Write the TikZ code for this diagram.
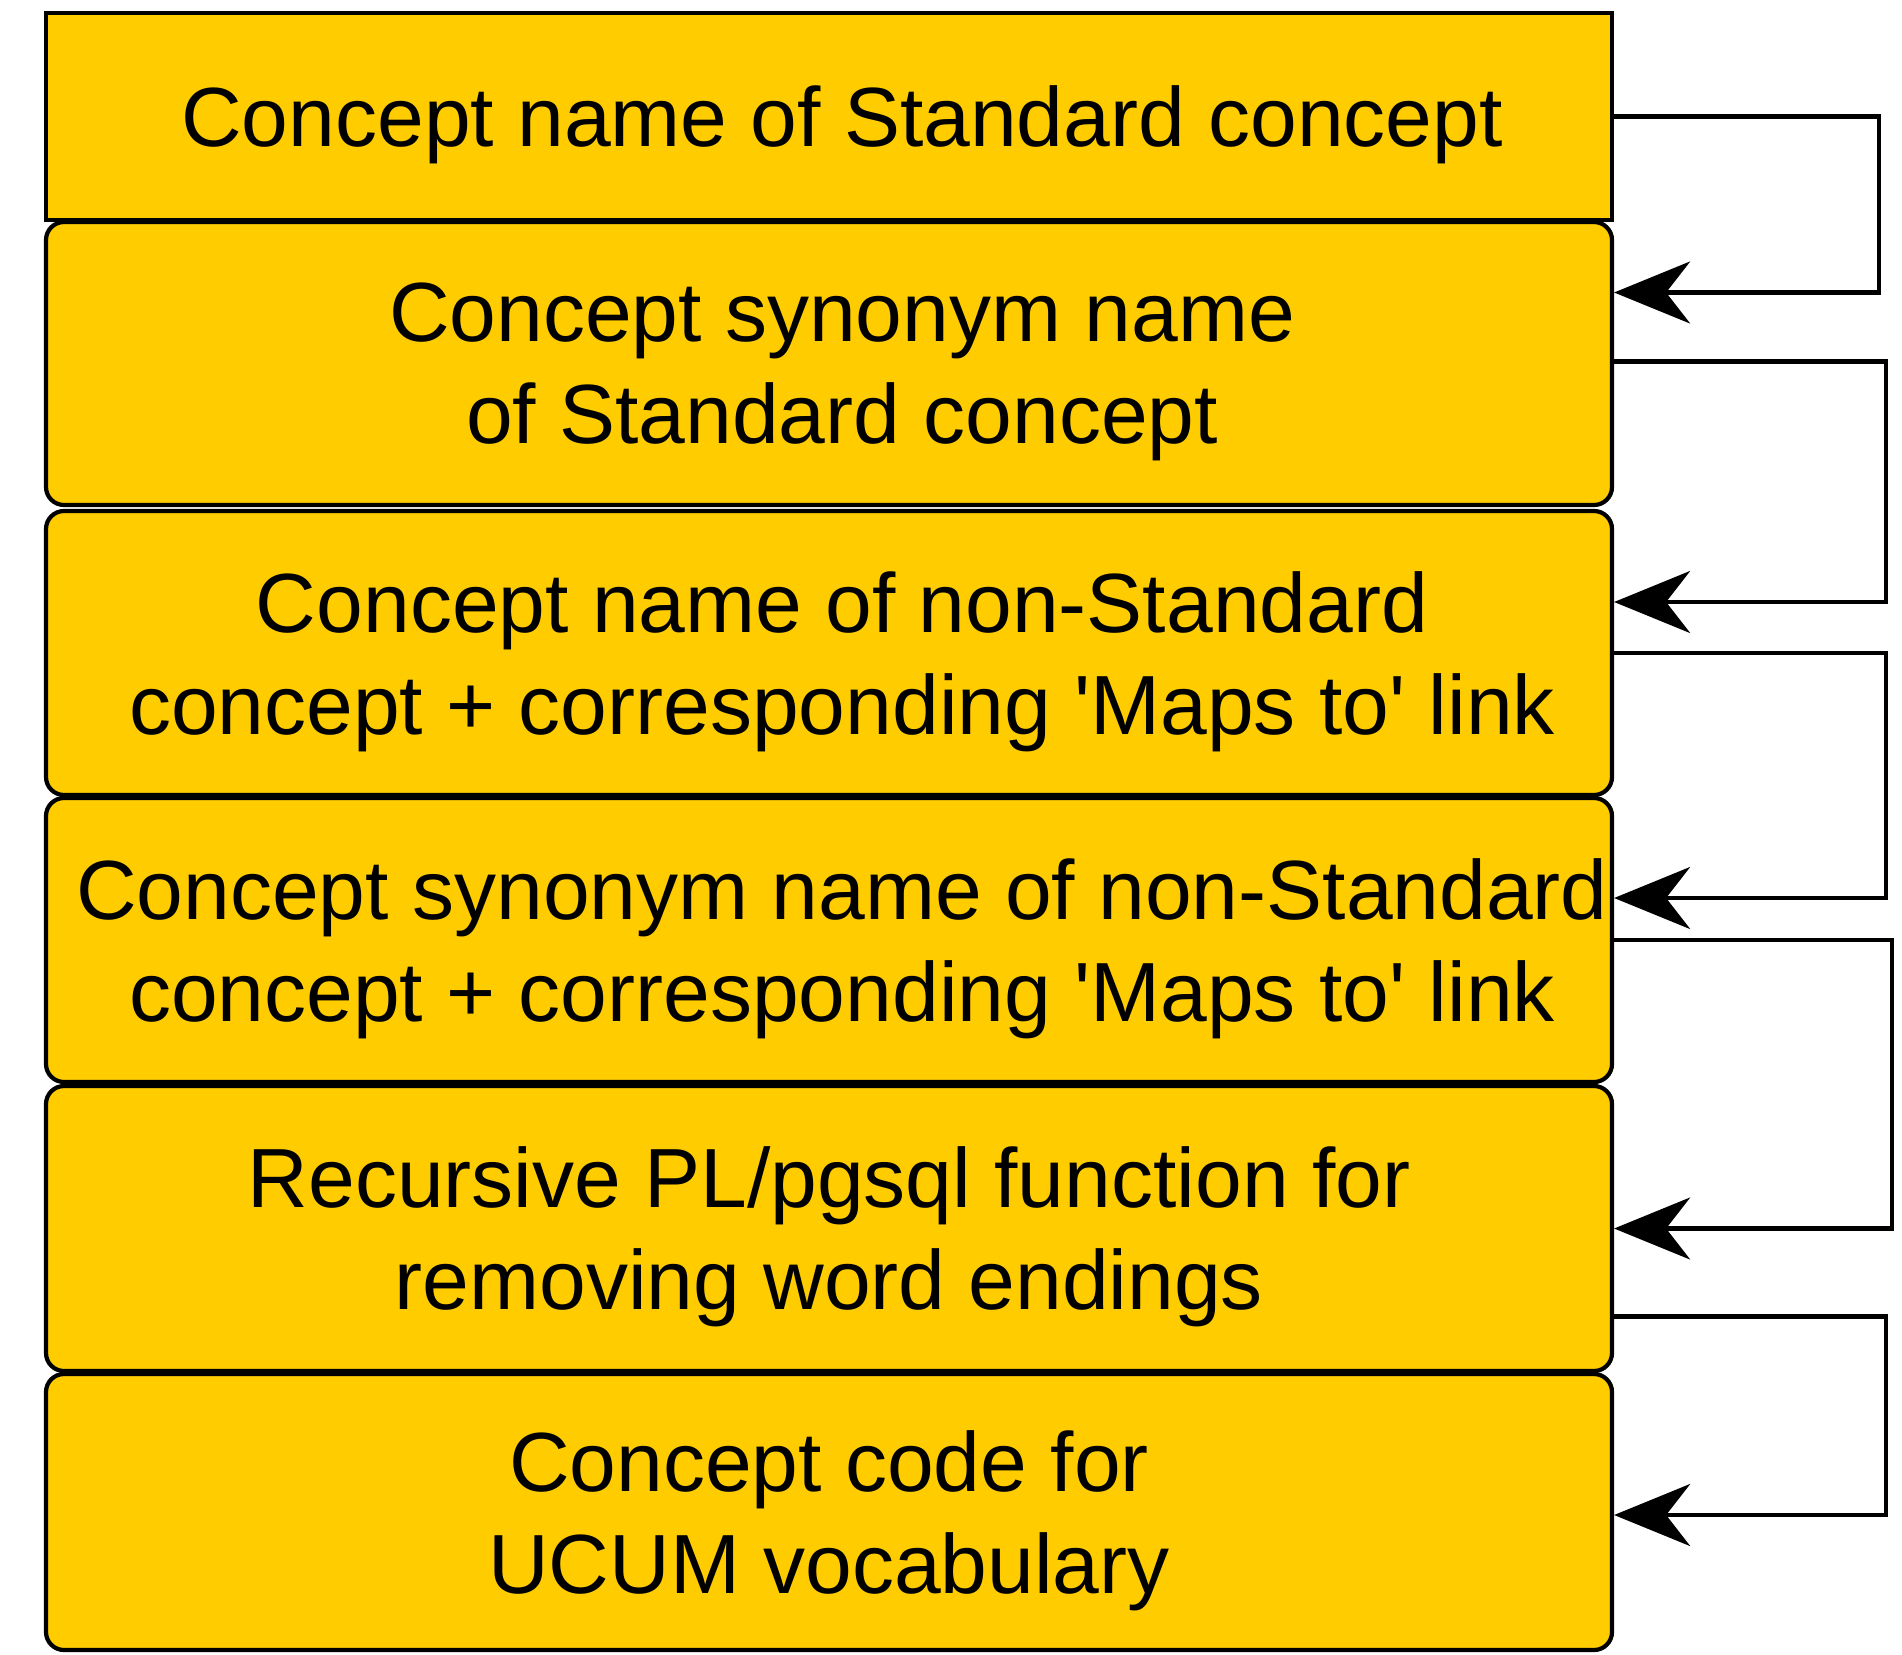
\documentclass[tikz,border=0pt]{standalone}
\usepackage{fontspec}
\newfontfamily\lsans{Liberation Sans}
\usetikzlibrary{arrows.meta}
\definecolor{boxyellow}{HTML}{FFCC00}
\newcommand{\rs}{\hspace*{26pt}}
\begin{document}
\begin{tikzpicture}[x=1pt,y=-1pt,
  box/.style={draw=black, line width=4.2pt, fill=boxyellow, minimum width=1566pt,
    inner sep=0pt, align=center, text=black, text depth=0pt,
    font=\lsans\fontsize{84}{102}\selectfont},
  rbox/.style={box, rounded corners=18pt},
  conn/.style={draw=black, line width=4.2pt,
    -{Stealth[length=76pt,width=62pt,inset=24pt]}}]
\useasboundingbox (0,0) rectangle (1902,1654);

\node[box, minimum height=207pt] (b1) at (829,116.5) {\rs Concept name of Standard concept};
\node[rbox, minimum height=283pt] (b2) at (829,363.5) {\rs Concept synonym name\\\rs of Standard concept};
\node[rbox, minimum height=284pt] (b3) at (829,653) {\rs Concept name of non-Standard\\\rs concept + corresponding 'Maps to' link};
\node[rbox, minimum height=284pt] (b4) at (829,940) {\rs Concept synonym name of non-Standard\\\rs concept + corresponding 'Maps to' link};
\node[rbox, minimum height=285pt] (b5) at (829,1228.5) {Recursive PL/pgsql function for\\removing word endings};
\node[rbox, minimum height=276pt] (b6) at (829,1512) {Concept code for\\UCUM vocabulary};

\coordinate (r1) at (1879,0);
\coordinate (r2) at (1886,0);
\coordinate (r3) at (1886,0);
\coordinate (r4) at (1892,0);
\coordinate (r5) at (1886,0);

\draw[conn] (b1.east) -- (b1.east -| r1) |- ([yshift=71pt]b2.east);
\draw[conn] ([yshift=2pt]b2.east) -- ([yshift=2pt]b2.east -| r2) |- ([yshift=51pt]b3.east);
\draw[conn] (b3.east) -- (b3.east -| r3) |- ([yshift=42pt]b4.east);
\draw[conn] (b4.east) -- (b4.east -| r4) |- (b5.east);
\draw[conn] ([yshift=-88pt]b5.east) -- ([yshift=-88pt]b5.east -| r5) |- ([yshift=-3pt]b6.east);
\end{tikzpicture}
\end{document}
